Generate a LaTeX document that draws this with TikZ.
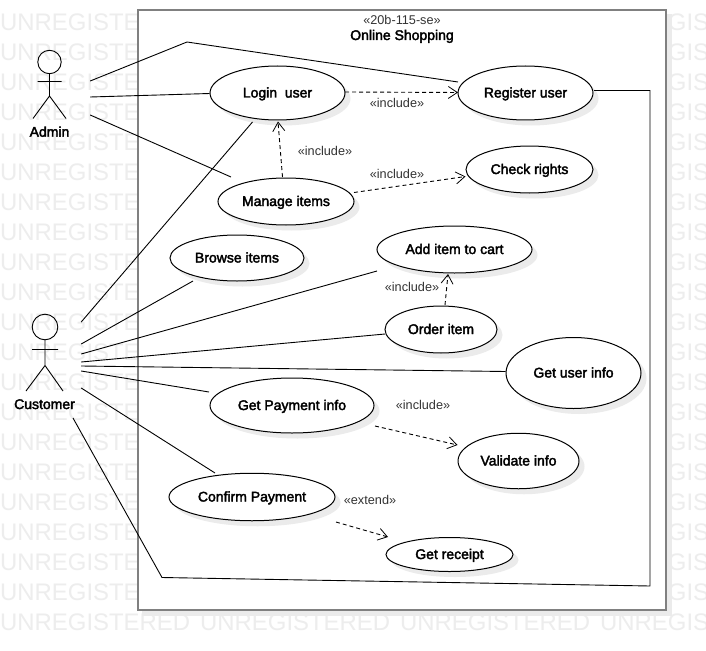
\documentclass[tikz,border=0pt]{standalone}
\usepackage{fontspec}
\setmainfont{Liberation Sans}
\newcommand\heavyon{\special{pdf:code q 2 Tr 0.35 w}}
\newcommand\heavyoff{\special{pdf:code Q}}
\usetikzlibrary{shapes.geometric,arrows.meta,shadows}
\tikzset{
  x=1pt,y=-1pt,
  uc/.style={ellipse,draw=black,line width=1pt,fill=white,inner sep=0pt,
    text height=9pt,text depth=0pt,
    execute at begin node=\heavyon,execute at end node=\heavyoff,
    drop shadow={shadow xshift=5.5pt,shadow yshift=-5.5pt,fill=black!8,opacity=1},
    font=\fontsize{14}{16}\selectfont},
  assoc/.style={black,line width=0.9pt},
  dep/.style={black,line width=0.9pt,dash pattern=on 4pt off 3pt,-{Straight Barb[length=9pt,width=12pt,line width=0.8pt]}},
  depl/.style={font=\fontsize{12.7}{15}\selectfont,text=black!80,inner sep=0pt,text height=10pt,text depth=0pt},
  mark text/.style={font=\fontsize{23.9}{26}\selectfont,text=black!7,anchor=west,inner sep=0pt},
  actorpart/.style={black,line width=0.9pt},
  actorlabel/.style={font=\fontsize{14}{16}\selectfont,inner sep=0pt,text height=10pt,text depth=0pt,
    execute at begin node=\heavyon,execute at end node=\heavyoff},
  actorbox/.style={inner sep=0pt,minimum width=#1},
  sysbox/.style={draw=black!50,line width=2.2pt,fill=white}
}
\begin{document}
\begin{tikzpicture}
\useasboundingbox (0,0) rectangle (706,650);
\fill[white] (0,0) rectangle (706,650);
% watermark
\begin{scope}
\clip (0,0) rectangle (706,650);
\foreach \r in {0,...,19}{
  \foreach \c in {0,600}{
    \node[mark text] at (\c,{22+30*\r}) {UNREGISTERED};
  }
}
\foreach \c in {0,200,400,600}{
  \node[mark text] at (\c,622) {UNREGISTERED};
}
\fill[black!8] (142,14) rectangle (672,616);
\end{scope}
% system
\node[sysbox,minimum width=528pt,minimum height=600pt,inner sep=0pt] (sys) at (402,310) {};
\node[depl] (stereo) at (402,20) {«20b-115-se»};
\node[actorlabel] (title) at (402,35) {Online Shopping};
% use cases
\node[uc,minimum width=135pt,minimum height=54pt] (login) at (277.5,93) {Login\ \ user};
\node[uc,minimum width=135pt,minimum height=54pt] (register) at (525.5,93) {Register user};
\node[uc,minimum width=136pt,minimum height=47pt] (manage) at (286,201.5) {Manage items};
\node[uc,minimum width=127pt,minimum height=47pt] (rights) at (529.5,169.5) {Check rights};
\node[uc,minimum width=134pt,minimum height=46pt] (browse) at (237,258) {Browse items};
\node[uc,minimum width=155pt,minimum height=47pt] (cart) at (454.5,249.5) {Add item to cart};
\node[uc,minimum width=112pt,minimum height=47pt] (order) at (441,329.5) {Order item};
\node[uc,minimum width=135pt,minimum height=71pt] (userinfo) at (573.5,373) {Get user info};
\node[uc,minimum width=164pt,minimum height=55pt] (payment) at (292,405.5) {Get Payment info};
\node[uc,minimum width=121pt,minimum height=55.5pt] (validate) at (518.5,461) {Validate info};
\node[uc,minimum width=166pt,minimum height=47.5pt] (confirm) at (252,497) {Confirm Payment};
\node[uc,minimum width=127pt,minimum height=34pt] (receipt) at (449.5,554.5) {Get receipt};
% actors
\node[actorbox=80pt,minimum height=72pt] (admin) at (50,97) {};
\draw[actorpart] (49.5,62) circle (11.7);
\draw[actorpart] (49.5,73.7) -- (49.5,96) (37.5,81.5) -- (61.5,81.5) (33,118.5) -- (49.5,96) -- (66,118.5);
\node[actorlabel] (adminl) at (49.5,131.7) {Admin};
\node[actorbox=72pt,minimum height=100pt] (customer) at (45,368) {};
\draw[actorpart] (45,327) circle (12.8);
\draw[actorpart] (45,339.8) -- (45,365.5) (32,349.5) -- (58,349.5) (26,391) -- (45,365.5) -- (63,391);
\node[actorlabel] (customerl) at (44.5,404) {Customer};
% bend points
\coordinate (b1) at (187,42);
\coordinate (b2) at (162,577.5);
\coordinate (b3) at (650,586);
\coordinate (b4) at (650,90.5);
% associations
\draw[assoc] ([yshift=16pt]admin.east) -- (b1) -- ([shift={(-67.5,-11)}]register.center);
\draw[assoc] (admin.east) -- ([shift={(-68,0.5)}]login.center);
\draw[assoc] ([yshift=-18pt]admin.east) -- ([shift={(-55,-24.5)}]manage.center);
\draw[assoc] ([yshift=46pt]customer.east) -- ([shift={(-25,29)}]login.center);
\draw[assoc] ([yshift=24pt]customer.east) -- ([shift={(-44,23)}]browse.center);
\draw[assoc] ([yshift=14pt]customer.east) -- ([shift={(-77.5,21.5)}]cart.center);
\draw[assoc] ([yshift=6pt]customer.east) -- ([shift={(-56,4.5)}]order.center);
\draw[assoc] ([yshift=2pt]customer.east) -- ([shift={(-68,-1.5)}]userinfo.center);
\draw[assoc] ([yshift=-3pt]customer.east) -- ([shift={(-83,-13.5)}]payment.center);
\draw[assoc] ([yshift=-20pt]customer.east) -- ([shift={(-37,-24)}]confirm.center);
\draw[assoc] ([shift={(28,50)}]customer.center) -- (b2) -- (b3) -- (b4) -- ([shift={(68.5,-2.5)}]register.center);
% dependencies
\draw[dep] ([shift={(67.5,-1)}]login.center) -- ([shift={(-67.5,-0.5)}]register.center);
\draw[dep] ([shift={(-3.5,-24.5)}]manage.center) -- ([shift={(0.5,28.5)}]login.center);
\draw[dep] ([shift={(68,-9)}]manage.center) -- ([shift={(-64,7)}]rights.center);
\draw[dep] ([shift={(4,-24.5)}]order.center) -- ([shift={(-6.5,24.5)}]cart.center);
\draw[dep] ([shift={(83,20.5)}]payment.center) -- ([shift={(-61,-16)}]validate.center);
\draw[dep] ([shift={(84,25)}]confirm.center) -- ([shift={(-61.5,-17.5)}]receipt.center);
% labels
\node[depl] (l1) at (397,102.3) {«include»};
\node[depl] (l2) at (325,150) {«include»};
\node[depl] (l3) at (397,173.3) {«include»};
\node[depl] (l4) at (412,286.7) {«include»};
\node[depl] (l5) at (423,404) {«include»};
\node[depl] (l6) at (370,499) {«extend»};
\end{tikzpicture}
\end{document}
